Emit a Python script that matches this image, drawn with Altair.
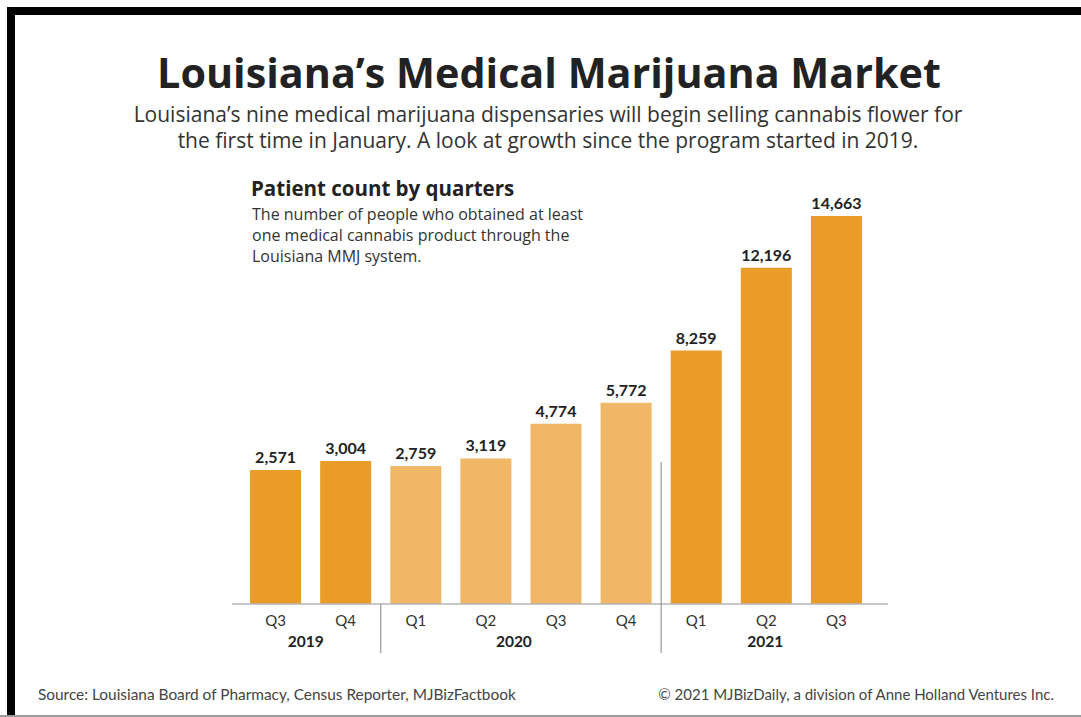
import altair as alt
import pandas as pd

# ---- data ----
quarters = ["Q3", "Q4", "Q1", "Q2", "Q3", "Q4", "Q1", "Q2", "Q3"]
years = ["2019", "2019", "2020", "2020", "2020", "2020", "2021", "2021", "2021"]
patients = [2571, 3004, 2759, 3119, 4774, 5772, 8259, 12196, 14663]

title_text = "Louisiana’s Medical Marijuana Market"
subtitle_lines = [
    "Louisiana’s nine medical marijuana dispensaries will begin selling cannabis flower for",
    "the first time in January. A look at growth since the program started in 2019.",
]
panel_title = "Patient count by quarters"
panel_desc = [
    "The number of people who obtained at least",
    "one medical cannabis product through the",
    "Louisiana MMJ system.",
]
source_text = "Source: Louisiana Board of Pharmacy, Census Reporter, MJBizFactbook"
credit_text = "© 2021 MJBizDaily, a division of Anne Holland Ventures Inc."

# ---- styles ----
FONT = "Lato"
HFONT = "Open Sans"
DARK = "#E99D28"
LIGHT = "#F0B866"
INK = "#222222"
W, H = 1081, 717
Y_MIN = -3809

df = pd.DataFrame({"quarter": quarters, "year": years, "patients": patients})
df["key"] = df["year"] + " " + df["quarter"]
df["label"] = df["patients"].map(lambda v: f"{v:,}")
keys = list(df["key"])

xscale = alt.Scale(range=[240.5, 871.5], paddingInner=0, paddingOuter=0)
xenc = alt.X("key:N", sort=keys, axis=None, scale=xscale)
yscale = alt.Scale(domain=[Y_MIN, 14663], range=[604, 216], nice=False, zero=False)
yenc = alt.Y("patients:Q", scale=yscale, axis=None)

base = alt.Chart(df)

bars = base.mark_bar(width=51).encode(
    x=xenc, y=yenc, y2=alt.datum(Y_MIN),
    color=alt.Color("year:N", legend=None,
                    scale=alt.Scale(domain=["2019", "2020", "2021"], range=[DARK, LIGHT, DARK])),
)

values = base.mark_text(font=FONT, fontSize=16, fontWeight="bold", color=INK,
                        baseline="alphabetic", dy=-7).encode(
    x=xenc, y=yenc, text="label:N")

qlabels = base.mark_text(font=FONT, fontSize=15, color="#333333",
                         baseline="alphabetic").encode(
    x=xenc, y=alt.value(626), text="quarter:N")

def year_label(anchor_key, dx):
    return base.transform_filter(alt.datum.key == anchor_key).mark_text(
        font=FONT, fontSize=15.5, fontWeight="bold", color=INK, baseline="alphabetic", dx=dx
    ).encode(x=xenc, y=alt.value(647), text="year:N")

y2019 = year_label("2019 Q4", -40)
y2020 = year_label("2020 Q2", 28)
y2021 = year_label("2021 Q2", -1)

sep_x = alt.X("key:N", sort=keys, axis=None, bandPosition=0, scale=xscale)
sep1 = base.transform_filter(alt.datum.key == "2020 Q1").mark_rule(
    color="#999999", strokeWidth=1.2).encode(x=sep_x, y=alt.value(604), y2=alt.value(653))
sep2 = base.transform_filter(alt.datum.key == "2021 Q1").mark_rule(
    color="#999999", strokeWidth=1.2).encode(x=sep_x, y=alt.value(462), y2=alt.value(653))

one = alt.Chart(pd.DataFrame({"a": [0]}))

baseline_rule = one.mark_rule(color="#b5b5b5", strokeWidth=1.5).encode(
    x=alt.value(232), x2=alt.value(888), y=alt.value(604))

frame_top = one.mark_rule(color="black", strokeWidth=8).encode(
    x=alt.value(7), x2=alt.value(W), y=alt.value(11))
frame_left = one.mark_rule(color="black", strokeWidth=8).encode(
    x=alt.value(11), y=alt.value(7), y2=alt.value(H))
frame_bottom = one.mark_rule(color="#9a9a9a", strokeWidth=2).encode(
    x=alt.value(0), x2=alt.value(W), y=alt.value(716))

title = one.mark_text(text=title_text, font=HFONT, fontSize=41.3, fontWeight="bold",
                      color=INK, align="center", baseline="alphabetic").encode(
    x=alt.value(549), y=alt.value(88))
sub1 = one.mark_text(text=subtitle_lines[0], font=HFONT, fontSize=21, color="#333333",
                     align="center", baseline="alphabetic").encode(
    x=alt.value(548), y=alt.value(122))
sub2 = one.mark_text(text=subtitle_lines[1], font=HFONT, fontSize=21, color="#333333",
                     align="center", baseline="alphabetic").encode(
    x=alt.value(548), y=alt.value(147.5))
ptitle = one.mark_text(text=panel_title, font=HFONT, fontSize=20.5, fontWeight="bold",
                       color=INK, align="left", baseline="alphabetic").encode(
    x=alt.value(251), y=alt.value(196))
pdesc = one.mark_text(text=panel_desc, font=HFONT, fontSize=16, color="#333333",
                      align="left", baseline="alphabetic", lineHeight=21).encode(
    x=alt.value(252), y=alt.value(220))
src = one.mark_text(text=source_text, font=FONT, fontSize=15.4, color="#444444",
                    align="left", baseline="alphabetic").encode(
    x=alt.value(38), y=alt.value(700))
cred = one.mark_text(text=credit_text, font=FONT, fontSize=15, color="#444444",
                     align="right", baseline="alphabetic").encode(
    x=alt.value(1054), y=alt.value(700))

chart = alt.layer(
    bars, baseline_rule, sep1, sep2, values, qlabels, y2019, y2020, y2021,
    title, sub1, sub2, ptitle, pdesc, src, cred, frame_top, frame_left, frame_bottom,
).properties(
    width=W, height=H, padding=0, background="white",
    autosize=alt.AutoSizeParams(type="none"),
).configure_view(stroke=None)

chart.save("out.html", embed_options={"renderer": "svg", "actions": False})
